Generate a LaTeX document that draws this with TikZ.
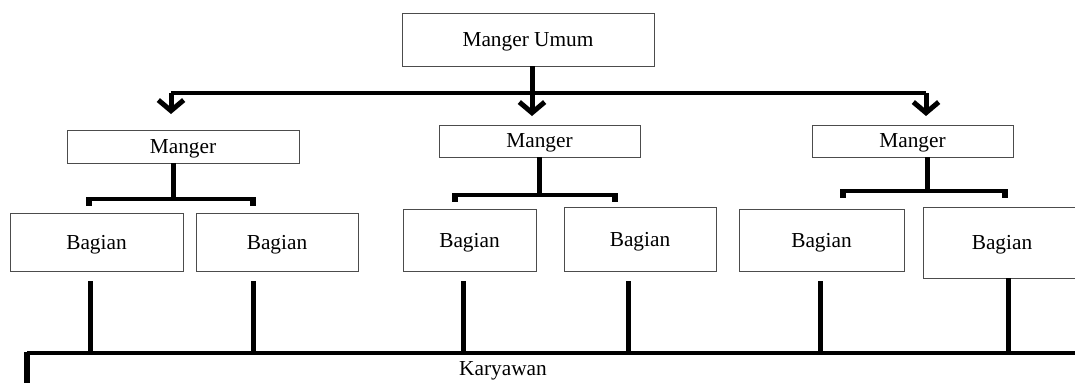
\documentclass[tikz,border=0pt]{standalone}
\usepackage{fontspec}
\setmainfont{Liberation Serif}
\usetikzlibrary{arrows.meta}

\begin{document}
\begin{tikzpicture}[x=0.75pt, y=-0.75pt]

  \tikzset{
    txt/.style={inner sep=0pt, font=\fontsize{16}{19}\selectfont},
    box/.style={txt, text depth=0pt, draw=black!70, line width=0.6pt},
    stem/.style={line width=3.75pt},
    bus/.style={line width=2.4pt},
    tick/.style={line width=4.5pt},
    arrow/.style={stem, -{Straight Barb[length=8pt, width=19pt]}},
  }

  \useasboundingbox (0,0) rectangle (1075,383);

  % boxes
  \node[box, minimum width=189pt, minimum height=39.75pt] (umum) at (528,39.5) {Manger Umum};

  \node[box, minimum width=174pt, minimum height=24.75pt] (m1) at (183,146.5) {Manger};
  \node[box, minimum width=150.75pt, minimum height=24pt] (m2) at (539.5,141) {Manger};
  \node[box, minimum width=150.75pt, minimum height=24pt] (m3) at (912.5,141) {Manger};

  \node[box, minimum width=129.75pt, minimum height=43.5pt] (b1) at (96.5,242) {Bagian};
  \node[box, minimum width=121.5pt, minimum height=43.5pt] (b2) at (277,242) {Bagian};
  \node[box, minimum width=99.75pt, minimum height=46.5pt] (b3) at (469.5,240) {Bagian};
  \node[box, minimum width=114pt, minimum height=48pt] (b4) at (640,239) {Bagian};
  \node[box, minimum width=123.75pt, minimum height=46.5pt] (b5) at (821.5,240) {Bagian};
  \node[box, minimum width=118.5pt, minimum height=53.25pt] (b6) at (1002,242.5) {Bagian};

  \node[txt] (kar) at (503,371) {Karyawan};

  % top level
  \coordinate (top) at (532,93);
  \coordinate (t1) at (171,114);
  \coordinate (t2) at (532,116);
  \coordinate (t3) at (926,116);
  \draw[bus] (t1 |- top) -- (t3 |- top);
  \draw[arrow] (t2 |- umum.south) -- (t2);
  \draw[arrow] (t1 |- top) -- (t1);
  \draw[arrow] (t3 |- top) -- (t3);

  % managers to parts
  \foreach \m/\x/\y/\l/\r in {m1/173/199/89/253, m2/539/195/455/615, m3/927/191/843/1005} {
    \coordinate (j) at (\x,\y);
    \coordinate (jl) at (\l,\y);
    \coordinate (jr) at (\r,\y);
    \draw[stem] (j |- \m.south) -- (j);
    \draw[bus] (jl) -- (jr);
    \draw[tick] ([yshift=1.2pt]jl) -- ([yshift=-5.5pt]jl);
    \draw[tick] ([yshift=1.2pt]jr) -- ([yshift=-5.5pt]jr);
  }

  % parts to staff
  \coordinate (kl) at (27,353);
  \coordinate (kr) at (1075,353);
  \draw[bus] (kl) -- (kr);
  \draw[line width=5pt] ([yshift=0.8pt]kl) -- ++(0,31);

  \foreach \b/\x/\g in {b1/90/7.5pt, b2/253/7.5pt, b3/463/7.5pt, b4/628/7.5pt, b5/820/7.5pt, b6/1008/0pt} {
    \coordinate (d) at (\x,353);
    \draw[stem, shorten <=\g] (d |- \b.south) -- (d);
  }

\end{tikzpicture}
\end{document}
